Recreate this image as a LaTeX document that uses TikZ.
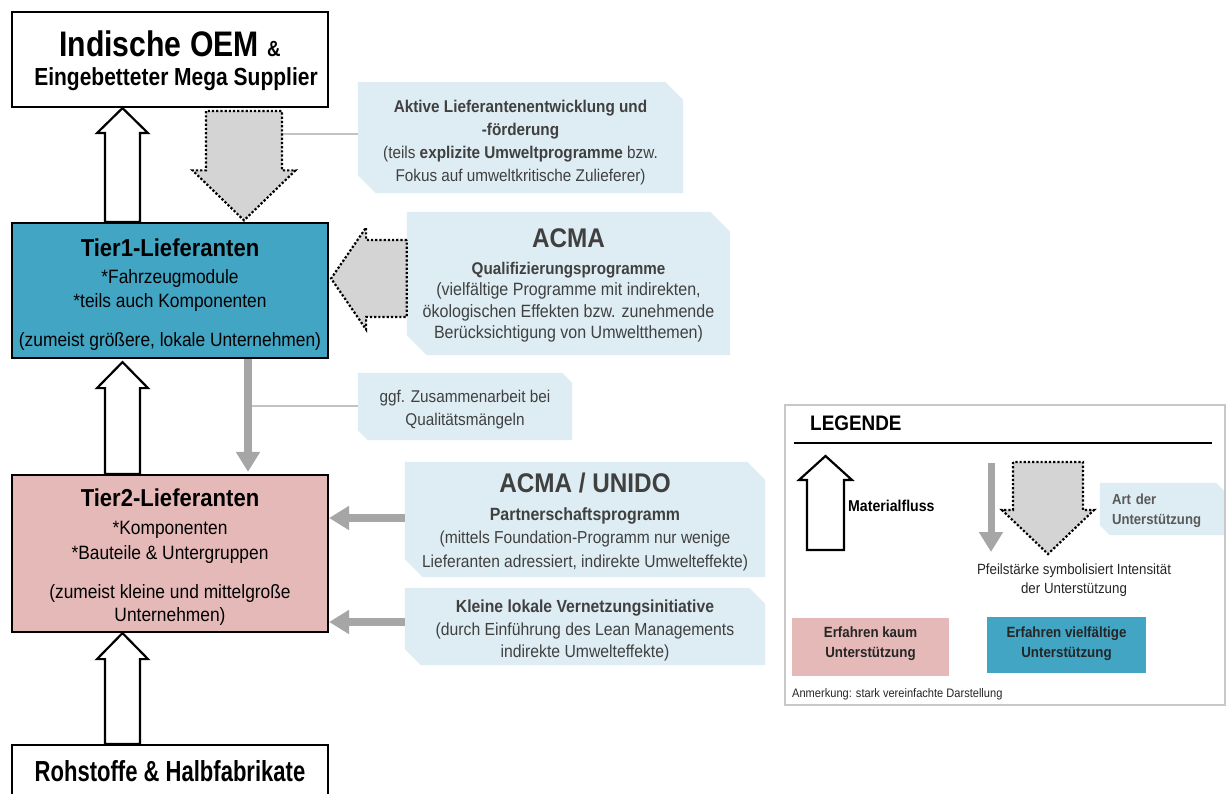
\documentclass[tikz,border=0pt]{standalone}
\usepackage{fontspec}
\setmainfont{Liberation Sans}[FakeStretch=0.9]
\newfontfamily\narrowfont{Liberation Sans}[FakeStretch=0.85]
\newfontfamily\tightfont{Liberation Sans}[FakeStretch=0.76]
\usetikzlibrary{arrows.meta,calc,backgrounds}

\definecolor{tierblue}{RGB}{65,165,195}
\definecolor{tierpink}{RGB}{230,185,185}
\definecolor{callfill}{RGB}{222,237,243}
\definecolor{supportgray}{RGB}{166,166,166}
\definecolor{dotfill}{RGB}{212,212,212}
\definecolor{calltext}{RGB}{64,64,64}
\definecolor{leadergray}{RGB}{195,195,195}
\definecolor{legframe}{RGB}{200,200,200}
\definecolor{legtext}{RGB}{89,89,89}

\newcommand\fsz[2]{\fontsize{#1}{#2}\selectfont}
% light plate behind a callout, top-right and bottom-left corners clipped
\newcommand\cutplate[2]{%
  \fill[callfill] (#1.north west) -- ([xshift=-#2]#1.north east) -- ([yshift=-#2]#1.north east)
    -- (#1.south east) -- ([xshift=#2]#1.south west) -- ([yshift=#2]#1.south west) -- cycle;}
% vertical block arrow: style, base, tip, half shaft, half head, signed head length
\newcommand\vblock[6]{%
  \draw[#1] ($(#2)+(-#4,0)$) -- ($(#3)+(-#4,#6)$) -- ($(#3)+(-#5,#6)$) -- (#3)
    -- ($(#3)+(#5,#6)$) -- ($(#3)+(#4,#6)$) -- ($(#2)+(#4,0)$) -- cycle;}

\begin{document}
\begin{tikzpicture}[x=1pt,y=-1pt,
  tierbox/.style={draw=black, line width=2.2pt, minimum width=316pt, inner sep=0pt,
    align=center, font=\fsz{19.3}{23.5}},
  callout/.style={inner sep=0pt, align=center, text=calltext},
  legbox/.style={inner sep=0pt, align=center, font=\fsz{14.8}{20}\bfseries, text=black!85},
  flow/.style={draw=black, fill=white, line width=2.2pt, line join=miter},
  support/.style={draw=black, fill=dotfill, line width=2.2pt, dash pattern=on 2.2pt off 2pt, line join=miter},
  supportline/.style={draw=supportgray, line width=8pt, -{Triangle[width=23pt,length=20pt]}},
  leader/.style={draw=leadergray, line width=1.2pt}
]
\useasboundingbox (0,0) rectangle (1226,794);
\begin{scope}[on background layer]
  \fill[white] (0,0) rectangle (1226,794);
\end{scope}
\clip (0,0) rectangle (1226,794);

% ---------- supply chain levels ----------
\node[tierbox, fill=white, minimum height=95pt, font=\fsz{25}{29}] (oem) at (170,59.5)
  {\rule{0pt}{29.2pt}{\narrowfont\fsz{35.5}{35.5}\bfseries Indische OEM \fsz{22}{22}\&}\\
   \hspace*{12pt}{\narrowfont\fsz{24.7}{24.7}\bfseries Eingebetteter Mega Supplier}};

\node[tierbox, fill=tierblue, minimum height=135pt] (t1) at (170,290.5)
  {\rule{0pt}{25.3pt}{\fsz{24.5}{24.5}\bfseries Tier1-Lieferanten}\\[4pt]
   *Fahrzeugmodule\\
   *teils auch Komponenten\\[15.5pt]
   (zumeist größere, lokale Unternehmen)};

\node[tierbox, fill=tierpink, minimum height=157pt] (t2) at (170,553.5)
  {\rule{0pt}{25.3pt}{\fsz{24.5}{24.5}\bfseries Tier2-Lieferanten}\\[4pt]
   *Komponenten\\[1.5pt]
   *Bauteile \& Untergruppen\\[15.5pt]
   (zumeist kleine und mittelgroße\\
   Unternehmen)};

\node[tierbox, fill=white, minimum height=52pt, font=\tightfont\fsz{29}{29}\bfseries] (raw) at (170,771)
  {Rohstoffe \& Halbfabrikate};

% ---------- support callouts ----------
\node[callout, minimum width=325pt, minimum height=111pt, font=\fsz{17}{22.7}] (c1) at (520.5,137.5)
  {\rule{0pt}{22.5pt}\textbf{Aktive Lieferantenentwicklung und}\\
   \textbf{-förderung}\\
   (teils \textbf{explizite Umweltprogramme} bzw.\\
   Fokus auf umweltkritische Zulieferer)};

\node[callout, minimum width=323pt, minimum height=143pt, font=\fsz{17.8}{21.5}] (c2) at (568.5,283.5)
  {\rule{0pt}{23.5pt}{\fsz{27}{27}\bfseries ACMA}\\[5pt]
   {\fsz{16.9}{16.9}\bfseries Qualifizierungsprogramme}\\
   (vielfältige Programme mit indirekten,\\
   ökologischen Effekten bzw. zunehmende\\
   Berücksichtigung von Umweltthemen)};

\node[callout, minimum width=214pt, minimum height=67pt, font=\fsz{17}{23}] (c3) at (465,406.5)
  {\rule{0pt}{19.4pt}ggf. Zusammenarbeit bei\\
   Qualitätsmängeln};

\node[callout, minimum width=360pt, minimum height=115pt, font=\fsz{17.3}{23.7}] (c4) at (585,519.5)
  {\rule{0pt}{25pt}{\fsz{27}{27}\bfseries ACMA / UNIDO}\\[3.5pt]
   {\fsz{17.7}{17.7}\bfseries Partnerschaftsprogramm}\\
   (mittels Foundation-Programm nur wenige\\
   Lieferanten adressiert, indirekte Umwelteffekte)};

\node[callout, minimum width=360pt, minimum height=77pt, font=\fsz{17.5}{22.5}] (c5) at (585,626.5)
  {\rule{0pt}{21.5pt}\textbf{Kleine lokale Vernetzungsinitiative}\\
   (durch Einführung des Lean Managements\\
   indirekte Umwelteffekte)};

\begin{scope}[on background layer]
  \cutplate{c1}{18pt}
  \cutplate{c2}{20pt}
  \cutplate{c3}{10pt}
  \cutplate{c4}{18pt}
  \cutplate{c5}{16pt}
\end{scope}

% ---------- leader lines ----------
\coordinate (l1) at (282,134);
\draw[leader] (l1) -- (l1 -| c1.west);
\coordinate (l2) at (252,406);
\draw[leader] (l2) -- (l2 -| c3.west);

% ---------- material flow (hollow arrows) ----------
\coordinate (fx) at (122.5,0);
\vblock{flow}{t1.north -| fx}{oem.south -| fx}{17.5}{25.5}{25}
\coordinate (a2t) at ($(t1.south -| fx)+(0,3)$);
\vblock{flow}{t2.north -| fx}{a2t}{17.5}{25.5}{26}
\vblock{flow}{raw.north -| fx}{t2.south -| fx}{17.5}{25.5}{26}

% ---------- support (dotted block arrows) ----------
\coordinate (dx) at (244,0);
\coordinate (d1b) at ($(oem.south -| dx)+(0,3)$);
\coordinate (d1t) at ($(t1.north -| dx)+(0,-1.5)$);
\vblock{support}{d1b}{d1t}{38}{51.5}{-50}

\coordinate (dy) at (0,278.5);
\coordinate (d2b) at (c2.west |- dy);
\coordinate (d2t) at ($(t1.east |- dy)+(2,0)$);
\draw[support] ($(d2b)+(0,-38.5)$) -- ($(d2t)+(35,-38.5)$) -- ($(d2t)+(35,-51)$) -- (d2t)
  -- ($(d2t)+(35,51)$) -- ($(d2t)+(35,38.5)$) -- ($(d2b)+(0,38.5)$) -- cycle;

% ---------- support (thin grey arrows) ----------
\coordinate (gx) at (248,0);
\draw[supportline] (t1.south -| gx) -- ($(t2.north -| gx)+(0,-2)$);
\coordinate (g2) at (0,518);
\draw[supportline] (c4.west |- g2) -- (t2.east |- g2);
\coordinate (g3) at (0,622);
\draw[supportline] (c5.west |- g3) -- (t2.east |- g3);

% ---------- legend ----------
\draw[legframe, line width=2pt] (785,405) rectangle (1225,705);
\node[anchor=west, inner sep=0pt, font=\fsz{21}{21}\bfseries] (legtitle) at (810,423) {LEGENDE};
\coordinate (rl) at (794,443); \coordinate (rr) at (1212,443);
\draw[black, line width=2.5pt] (rl) -- (rr);

\coordinate (lfb) at (825.5,550); \coordinate (lft) at (825.5,456);
\vblock{flow}{lfb}{lft}{18.5}{26.5}{24}
\node[anchor=west, inner sep=0pt, font=\fsz{15.7}{15.7}\bfseries] (legflow) at (848,506) {Materialfluss};

\coordinate (lgs) at (991,463); \coordinate (lge) at (991,552);
\draw[supportline, line width=7pt] (lgs) -- (lge);
\coordinate (lds) at (1048,462); \coordinate (ldt) at (1048,554);
\vblock{support}{lds}{ldt}{35}{46}{-44}

\node[inner sep=0pt, minimum width=126pt, minimum height=52pt, text width=102pt, align=left,
  font=\fsz{14.6}{20}\bfseries, text=legtext] (legart) at (1163,509)
  {\rule{0pt}{14.7pt}Art der\\ Unterstützung};
\begin{scope}[on background layer]
  \cutplate{legart}{10pt}
\end{scope}

\node[inner sep=0pt, align=center, font=\fsz{14.8}{19.5}, text=black!85] (legnote) at (1074,580)
  {Pfeilstärke symbolisiert Intensität\\ der Unterstützung};

\node[legbox, fill=tierpink, minimum width=157pt, minimum height=58pt] (legpink) at (870.5,647)
  {Erfahren kaum\\ Unterstützung\rule[-10pt]{0pt}{10pt}};
\node[legbox, fill=tierblue, minimum width=159pt, minimum height=56pt] (legblue) at (1066.5,645)
  {Erfahren vielfältige\\ Unterstützung\rule[-6pt]{0pt}{6pt}};

\node[anchor=west, inner sep=0pt, font=\fsz{12.3}{12.3}, text=black!85] (legremark) at (792,694)
  {Anmerkung: stark vereinfachte Darstellung};
\end{tikzpicture}
\end{document}
